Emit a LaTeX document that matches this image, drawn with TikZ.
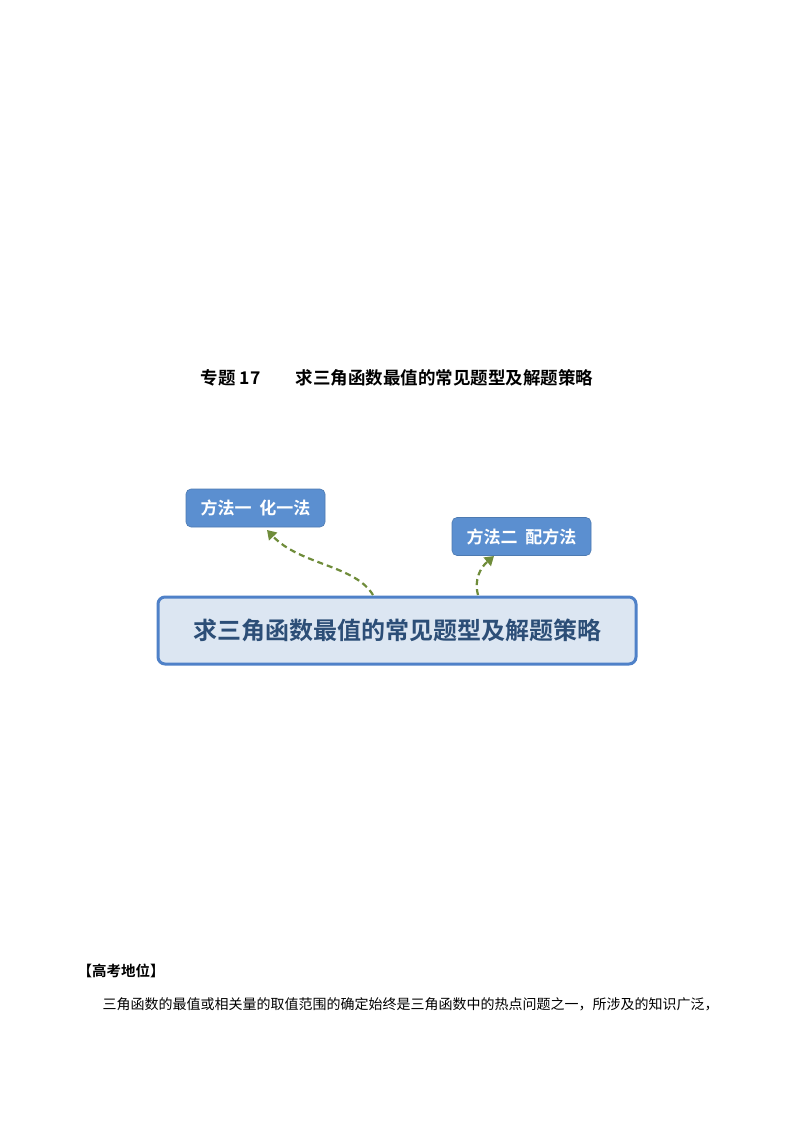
\documentclass[tikz,border=0pt]{standalone}
\usepackage{fontspec}
\newfontfamily\cjk{Noto Sans CJK SC}
\newfontfamily\cjkb{Noto Sans CJK SC Bold}
\usetikzlibrary{arrows.meta}
\definecolor{bluebox}{HTML}{5B8FD0}
\definecolor{mainfill}{HTML}{DCE6F2}
\definecolor{mainline}{HTML}{4F81C8}
\definecolor{maintext}{HTML}{2C4E77}
\definecolor{arrowc}{HTML}{6F8C3A}
\tikzset{
 sub/.style={draw=bluebox!85!black,fill=bluebox,rounded corners=5pt,minimum width=139pt,minimum height=38pt,text=white,font=\cjkb\fontsize{17}{17}\selectfont,line width=0.6pt},
 conn/.style={draw=arrowc,line width=2.2pt,dash pattern=on 6pt off 4pt,-{Triangle[length=9pt,width=11pt]}}
}
\begin{document}
\begin{tikzpicture}[x=1pt,y=-1pt]
\useasboundingbox[fill=white] (0,0) rectangle (794,1123);
\node[font=\cjkb\fontsize{17.5}{17.5}\selectfont] (title) at (397,378) {专题 17\quad\quad 求三角函数最值的常见题型及解题策略};
\node[draw=mainline,fill=mainfill,line width=3pt,rounded corners=7pt,minimum width=478pt,minimum height=67pt,text=maintext,font=\cjkb\fontsize{24}{24}\selectfont] (main) at (397,630.5) {求三角函数最值的常见题型及解题策略};
\node[sub] (m1) at (255.5,508) {方法一\ \ 化一法};
\node[sub] (m2) at (521.5,536.5) {方法二\ \ 配方法};
\coordinate (s1) at (373,595);
\coordinate (s2) at (478,595);
\draw[conn] (s1) .. controls (355,565) and (300,565) .. (267,530);
\draw[conn] (s2) .. controls (474,580) and (480,568) .. (494,556);
\node[anchor=west,font=\cjkb\fontsize{14.5}{14.5}\selectfont] (h) at (74,971) {【高考地位】};
\node[anchor=west,font=\cjk\fontsize{14}{14}\selectfont] (p) at (99,1004) {三角函数的最值或相关量的取值范围的确定始终是三角函数中的热点问题之一，所涉及的知识广泛，};
\end{tikzpicture}
\end{document}
